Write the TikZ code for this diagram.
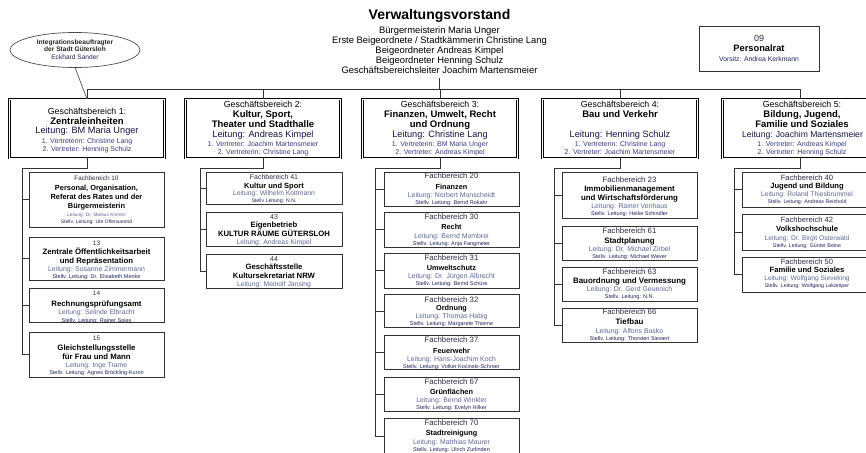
\documentclass[tikz,border=0pt]{standalone}
\usepackage{fontspec}
\setmainfont{Liberation Sans}
\usetikzlibrary{shapes.geometric}
\definecolor{hdc}{RGB}{45,45,70}
\definecolor{ldc}{RGB}{95,105,150}
\definecolor{stc}{RGB}{35,35,95}
\definecolor{gblc}{RGB}{20,20,70}
\definecolor{gbvc}{RGB}{60,60,130}
\definecolor{boxc}{RGB}{50,50,50}
\newcommand\fs[1]{\fontsize{#1}{#1}\selectfont}
\newcounter{tln}
\newcommand\tx[4]{\stepcounter{tln}\edef\tlname{tl\arabic{tln}}\node[#1] (\tlname) at (#2,#3) {#4};}
\tikzset{
  ln/.style={anchor=mid, inner sep=0pt, outer sep=0pt},
  hd/.style={ln, text=hdc, font=\fs{#1}},
  nm/.style={ln, text=black, font=\fs{#1}\bfseries},
  ld/.style={ln, text=ldc, font=\fs{#1}},
  st/.style={ln, text=stc, font=\fs{#1}},
  gh/.style={ln, text=black, font=\fs{8.8}},
  gn/.style={ln, text=black, font=\fs{9.5}\bfseries},
  gl/.style={ln, text=gblc, font=\fs{9.2}},
  gv/.style={ln, text=gbvc, font=\fs{7}},
  fbbox/.style={draw=boxc, line width=0.9pt, fill=white, inner sep=0pt, outer sep=0pt},
  gbbox/.style={draw=black, double=white, double distance=1pt, line width=0.8pt, inner sep=0pt, outer sep=0pt, minimum width=155pt, minimum height=59pt},
  conn/.style={draw=black!80, line width=0.8pt},
}
\begin{document}
\begin{tikzpicture}[x=1pt,y=-1pt]
\useasboundingbox (0,0) rectangle (866,452);
\fill[white] (0,0) rectangle (866,452);
\clip (0,0) rectangle (866,452);

% top level
\node[draw=black, double=white, double distance=1.2pt, line width=0.7pt, inner sep=0pt, outer sep=0pt, minimum width=277pt, minimum height=73pt] (vv) at (439.5,41.5) {};
\tx{ln, font=\fs{14}\bfseries}{439.5}{16.7}{Verwaltungsvorstand}
\tx{ln, font=\fs{9.4}}{439.5}{30.6}{Bürgermeisterin Maria Unger}
\tx{ln, font=\fs{9.4}}{439.5}{40.7}{Erste Beigeordnete / Stadtkämmerin Christine Lang}
\tx{ln, font=\fs{9.4}}{439.5}{50.8}{Beigeordneter Andreas Kimpel}
\tx{ln, font=\fs{9.4}}{439.5}{60.9}{Beigeordneter Henning Schulz}
\tx{ln, font=\fs{9.4}}{439.5}{71}{Geschäftsbereichsleiter Joachim Martensmeier}

\node[fbbox, minimum width=120pt, minimum height=45pt] (pr) at (759,48.5) {};
\tx{ln, font=\fs{9}, text=hdc}{759}{39}{09}
\tx{ln, font=\fs{9.3}\bfseries}{759}{49}{Personalrat}
\tx{ln, font=\fs{6.8}, text=stc}{759}{59}{Vorsitz: Andrea Kerkmann}

\node[ellipse, draw=black!70, line width=0.7pt, fill=white, minimum width=130pt, minimum height=35pt, inner sep=0pt, outer sep=0pt] (integ) at (75,50) {};
\tx{ln, font=\fs{6.6}\bfseries, text=black!85}{75}{41.7}{Integrationsbeauftragter}
\tx{ln, font=\fs{6.6}\bfseries, text=black!85}{75}{49.3}{der Stadt Gütersloh}
\tx{ln, font=\fs{6.6}, text=stc}{75}{56.7}{Eckhard Sander}

% Geschaeftsbereiche
\node[gbbox] (gb1) at (87,128.5) {};
\node[gbbox] (gb2) at (263,128.5) {};
\node[gbbox] (gb3) at (440,128.5) {};
\node[gbbox] (gb4) at (620,128.5) {};
\node[gbbox] (gb5) at (800,128.5) {};

\tx{gh}{87}{112}{Geschäftsbereich 1:}
\tx{gn}{87}{121.5}{Zentraleinheiten}
\tx{gl}{87}{131}{Leitung: BM Maria Unger}
\tx{gv}{87}{141}{1. Vertreterin: Christine Lang}
\tx{gv}{87}{148.5}{2. Vertreter: Henning Schulz}

\tx{gh}{263}{105}{Geschäftsbereich 2:}
\tx{gn}{263}{114.5}{Kultur, Sport,}
\tx{gn}{263}{125}{Theater und Stadthalle}
\tx{gl}{263}{135}{Leitung: Andreas Kimpel}
\tx{gv}{263}{143.5}{1. Vertreter: Joachim Martensmeier}
\tx{gv}{263}{152}{2. Vertreterin: Christine Lang}

\tx{gh}{440}{105}{Geschäftsbereich 3:}
\tx{gn}{440}{115}{Finanzen, Umwelt, Recht}
\tx{gn}{440}{125}{und Ordnung}
\tx{gl}{440}{135}{Leitung: Christine Lang}
\tx{gv}{440}{143.5}{1. Vertreterin: BM Maria Unger}
\tx{gv}{440}{152}{2. Vertreter: Andreas Kimpel}

\tx{gh}{620}{105}{Geschäftsbereich 4:}
\tx{gn}{620}{115}{Bau und Verkehr}
\tx{gl}{620}{135}{Leitung: Henning Schulz}
\tx{gv}{620}{143.5}{1. Vertreterin: Christine Lang}
\tx{gv}{620}{152}{2. Vertreter: Joachim Martensmeier}

\tx{gh}{802}{105}{Geschäftsbereich 5:}
\tx{gn}{802}{115}{Bildung, Jugend,}
\tx{gn}{802}{125}{Familie und Soziales}
\tx{ln, text=gblc, font=\fs{8.6}}{802.5}{135}{Leitung: Joachim Martensmeier}
\tx{gv}{802}{143.5}{1. Vertreter: Andreas Kimpel}
\tx{gv}{802}{152}{2. Vertreter: Henning Schulz}

% column 1
\node[fbbox, minimum width=135pt, minimum height=55pt] (fb10) at (96.5,199.5) {};
\node[fbbox, minimum width=135pt, minimum height=43pt] (fb13) at (96.5,258.5) {};
\node[fbbox, minimum width=135pt, minimum height=34pt] (fb14) at (96.5,305) {};
\node[fbbox, minimum width=135pt, minimum height=45pt] (fb15) at (96.5,354.5) {};
\tx{hd=6.4}{96.5}{178}{Fachbereich 10}
\tx{nm=7.4}{96.5}{188}{Personal, Organisation,}
\tx{nm=7.4}{96.5}{197}{Referat des Rates und der}
\tx{nm=7.4}{96.5}{206}{Bürgermeisterin}
\tx{ld=4.7}{96.5}{214}{Leitung: Dr. Markus Kremer}
\tx{st=5}{96.5}{221}{Stellv. Leitung: Ute Offensarend}
\tx{hd=6.5}{96.5}{243}{13}
\tx{nm=7.8}{96.5}{251.5}{Zentrale Öffentlichkeitsarbeit}
\tx{nm=7.8}{96.5}{260.5}{und Repräsentation}
\tx{ld=6.9}{96.5}{268.5}{Leitung: Susanne Zimmermann}
\tx{st=5.5}{96.5}{276}{Stellv. Leitung: Dr. Elisabeth Menke}
\tx{hd=6.5}{96.5}{293}{14}
\tx{nm=7.8}{96.5}{304}{Rechnungsprüfungsamt}
\tx{ld=6.8}{96.5}{312}{Leitung: Selinde Elbracht}
\tx{st=5.5}{96.5}{319.5}{Stellv. Leitung: Rainer Spies}
\tx{hd=6.5}{96.5}{338}{15}
\tx{nm=7.8}{96.5}{348}{Gleichstellungsstelle}
\tx{nm=7.8}{96.5}{357}{für Frau und Mann}
\tx{ld=6.8}{96.5}{364.5}{Leitung: Inge Trame}
\tx{st=5.5}{96.5}{372}{Stellv. Leitung: Agnes Bröckling-Kuron}

% column 2
\node[fbbox, minimum width=136pt, minimum height=32pt] (fb41) at (274,188) {};
\node[fbbox, minimum width=136pt, minimum height=34pt] (fb43) at (274,229) {};
\node[fbbox, minimum width=136pt, minimum height=34pt] (fb44) at (274,271) {};
\tx{hd=7}{274}{177}{Fachbereich 41}
\tx{nm=7.5}{274}{185.5}{Kultur und Sport}
\tx{ld=6.8}{274}{193}{Leitung: Wilhelm Kottmann}
\tx{st=5.2}{274}{200}{Stellv Leitung: N.N.}
\tx{hd=7}{274}{217}{43}
\tx{nm=7.7}{274}{225}{Eigenbetrieb}
\tx{nm=7.7}{274}{234}{KULTUR RÄUME GÜTERSLOH}
\tx{ld=6.8}{274}{242}{Leitung: Andreas Kimpel}
\tx{hd=7}{274}{259}{44}
\tx{nm=7.7}{274}{267}{Geschäftsstelle}
\tx{nm=7.7}{274}{276}{Kultursekretariat NRW}
\tx{ld=6.8}{274}{284}{Leitung: Meinolf Jansing}

% column 3
\node[fbbox, minimum width=135pt, minimum height=34pt] (fb20) at (451.5,189) {};
\node[fbbox, minimum width=135pt, minimum height=35pt] (fb30) at (451.5,229.5) {};
\node[fbbox, minimum width=135pt, minimum height=35pt] (fb31) at (451.5,270.5) {};
\node[fbbox, minimum width=135pt, minimum height=33pt] (fb32) at (451.5,311) {};
\node[fbbox, minimum width=135pt, minimum height=34pt] (fb37) at (451.5,352) {};
\node[fbbox, minimum width=135pt, minimum height=34pt] (fb67) at (451.5,394) {};
\node[fbbox, minimum width=135pt, minimum height=37pt] (fb70) at (451.5,436.5) {};
\tx{hd=7.8}{451.5}{176}{Fachbereich 20}
\tx{nm=7.3}{451.5}{187}{Finanzen}
\tx{ld=6.9}{451.5}{195}{Leitung: Norbert Monscheidt}
\tx{st=5.5}{451.5}{202}{Stellv. Leitung: Bernd Rokahr}
\tx{hd=7.8}{451.5}{217}{Fachbereich 30}
\tx{nm=7.3}{451.5}{227}{Recht}
\tx{ld=6.9}{451.5}{236}{Leitung: Bernd Mombrei}
\tx{st=5.5}{451.5}{243}{Stellv. Leitung: Anja Fangmeier}
\tx{hd=7.8}{451.5}{258}{Fachbereich 31}
\tx{nm=7.3}{451.5}{268}{Umweltschutz}
\tx{ld=6.9}{451.5}{276}{Leitung: Dr. Jürgen Albrecht}
\tx{st=5.5}{451.5}{283}{Stellv. Leitung: Bernd Schüre}
\tx{hd=7.8}{451.5}{299.5}{Fachbereich 32}
\tx{nm=7.3}{451.5}{308}{Ordnung}
\tx{ld=6.9}{451.5}{316}{Leitung: Thomas Habig}
\tx{st=5.5}{451.5}{323}{Stellv. Leitung: Margarete Thieme}
\tx{hd=7.8}{451.5}{339.5}{Fachbereich 37}
\tx{nm=7.3}{451.5}{351}{Feuerwehr}
\tx{ld=6.9}{451.5}{358.5}{Leitung: Hans-Joachim Koch}
\tx{st=5.5}{451.5}{366}{Stellv. Leitung: Volker Kocinski-Schroer}
\tx{hd=7.8}{451.5}{382}{Fachbereich 67}
\tx{nm=7.3}{451.5}{392}{Grünflächen}
\tx{ld=6.9}{451.5}{400}{Leitung: Bernd Winkler}
\tx{st=5.5}{451.5}{407}{Stellv. Leitung: Evelyn Hilker}
\tx{hd=7.8}{451.5}{423}{Fachbereich 70}
\tx{nm=7.3}{451.5}{433}{Stadtreinigung}
\tx{ld=6.9}{451.5}{442}{Leitung: Matthias Maurer}
\tx{st=5.5}{451.5}{449}{Stellv. Leitung: Ulrich Zurlinden}

% column 4
\node[fbbox, minimum width=135pt, minimum height=46pt] (fb23) at (629.5,195) {};
\node[fbbox, minimum width=135pt, minimum height=34pt] (fb61) at (629.5,243) {};
\node[fbbox, minimum width=135pt, minimum height=34pt] (fb63) at (629.5,284) {};
\node[fbbox, minimum width=135pt, minimum height=34pt] (fb66) at (629.5,325) {};
\tx{hd=7.8}{629.5}{180}{Fachbereich 23}
\tx{nm=7.9}{629.5}{189}{Immobilienmanagement}
\tx{nm=7.9}{629.5}{198}{und Wirtschaftsförderung}
\tx{ld=6.9}{629.5}{206}{Leitung: Rainer Venhaus}
\tx{st=5.5}{629.5}{213}{Stellv. Leitung: Heike Schindler}
\tx{hd=7.8}{629.5}{231}{Fachbereich 61}
\tx{nm=7.9}{629.5}{241}{Stadtplanung}
\tx{ld=6.9}{629.5}{249}{Leitung: Dr. Michael Zirbel}
\tx{st=5.5}{629.5}{256}{Stellv. Leitung: Michael Wever}
\tx{hd=7.8}{629.5}{272}{Fachbereich 63}
\tx{nm=7.9}{629.5}{281}{Bauordnung und Vermessung}
\tx{ld=6.9}{629.5}{289}{Leitung: Dr. Gerd Geuenich}
\tx{st=5.5}{629.5}{296}{Stellv. Leitung: N.N.}
\tx{hd=7.8}{629.5}{312}{Fachbereich 66}
\tx{nm=7.9}{629.5}{322}{Tiefbau}
\tx{ld=6.9}{629.5}{331}{Leitung: Alfons Busko}
\tx{st=5.5}{629.5}{338}{Stellv. Leitung: Thorsten Siewert}

% column 5
\node[fbbox, minimum width=134pt, minimum height=35pt] (fb40) at (809,189.5) {};
\node[fbbox, minimum width=134pt, minimum height=36pt] (fb42) at (809,232) {};
\node[fbbox, minimum width=134pt, minimum height=35pt] (fb50) at (809,274.5) {};
\tx{hd=7.6}{807}{178}{Fachbereich 40}
\tx{nm=7.6}{807}{186}{Jugend und Bildung}
\tx{ld=6.7}{807}{194}{Leitung: Roland Thiesbrummel}
\tx{st=5.3}{807}{201}{Stellv. Leitung: Andreas Reinhold}
\tx{hd=7.6}{807}{220}{Fachbereich 42}
\tx{nm=7.6}{807}{229}{Volkshochschule}
\tx{ld=6.7}{807}{238}{Leitung: Dr. Birgit Osterwald}
\tx{st=5.3}{807}{245}{Stellv. Leitung: Günter Beine}
\tx{hd=7.6}{807}{262}{Fachbereich 50}
\tx{nm=7.6}{807}{269.5}{Familie und Soziales}
\tx{ld=6.7}{807}{278}{Leitung: Wolfgang Sieveking}
\tx{st=5.3}{807}{284.5}{Stellv. Leitung: Wolfgang Lakämper}

% connectors top
\coordinate (bus) at (440,89);
\draw[conn] (vv.south) -- (vv.south |- bus);
\draw[conn] (gb1.north |- bus) -- (gb5.north |- bus);
\foreach \g in {gb1,gb2,gb3,gb4,gb5} \draw[conn] (\g.north |- bus) -- (\g.north);
\draw[conn, draw=black!60] (integ.south) -- (gb1.north);

% connectors columns
\coordinate (j1) at (22,168);
\coordinate (j2) at (200,168);
\coordinate (j3) at (375,168);
\coordinate (j4) at (554,168);
\coordinate (j5) at (734,168);
\draw[conn] (gb1.south) |- (j1) |- (fb15.west);
\foreach \f in {fb10,fb13,fb14} \draw[conn] (j1 |- \f.west) -- (\f.west);
\draw[conn] (gb2.south) |- (j2) |- (fb44.west);
\foreach \f in {fb41,fb43} \draw[conn] (j2 |- \f.west) -- (\f.west);
\draw[conn] (gb3.south) |- (j3) |- (fb70.west);
\foreach \f in {fb20,fb30,fb31,fb32,fb37,fb67} \draw[conn] (j3 |- \f.west) -- (\f.west);
\draw[conn] (gb4.south) |- (j4) |- (fb66.west);
\foreach \f in {fb23,fb61,fb63} \draw[conn] (j4 |- \f.west) -- (\f.west);
\draw[conn] (gb5.south) |- (j5) |- (fb50.west);
\foreach \f in {fb40,fb42} \draw[conn] (j5 |- \f.west) -- (\f.west);
\end{tikzpicture}
\end{document}
